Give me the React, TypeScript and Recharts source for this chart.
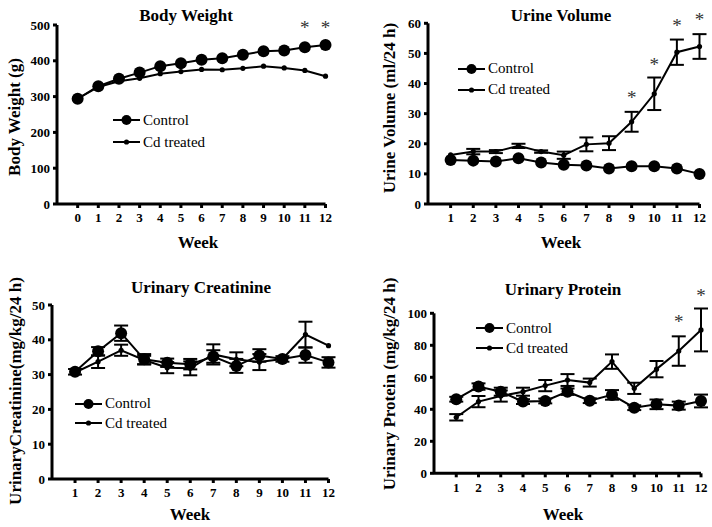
import React from 'react';
import { LineChart, Line, XAxis, YAxis, ErrorBar, ReferenceDot, Legend } from 'recharts';

const FONT = '"Liberation Serif", "Times New Roman", Times, serif';

// Body Weight (g)
const bwWeeks = [0, 1, 2, 3, 4, 5, 6, 7, 8, 9, 10, 11, 12];
const bwControl = [294, 329, 350, 367, 385, 393, 403, 407, 417, 427, 429, 438, 444];
const bwCd = [294, 327, 343, 351, 364, 370, 376, 375, 379, 385, 380, 373, 357];
const bwStarWeeks = [11, 12];
const bwStarLevels = [500, 500];
const bwTicks = [0, 100, 200, 300, 400, 500];

// Urine Volume (ml/24 h)
const weeks = [1, 2, 3, 4, 5, 6, 7, 8, 9, 10, 11, 12];
const uvControl = [14.6, 14.4, 14.1, 15.2, 13.8, 13.0, 12.8, 11.8, 12.5, 12.5, 11.8, 10.0];
const uvCd = [16.3, 17.4, 17.4, 19.3, 17.4, 16.2, 19.8, 20.2, 27.3, 36.6, 50.4, 52.3];
const uvCdErr = [null, 0.9, 0.5, 0.7, 0.4, 1.2, 2.3, 2.3, 3.3, 5.4, 4.2, 4.1];
const uvStarWeeks = [9, 10, 11, 12];
const uvStarLevels = [36.2, 47.3, 60.2, 62.2];
const uvTicks = [0, 10, 20, 30, 40, 50, 60];

// Urinary Creatinine (mg/kg/24 h)
const ucControl = [30.8, 36.7, 41.9, 34.4, 33.4, 33.0, 35.2, 32.5, 35.5, 34.5, 35.6, 33.5];
const ucControlErr = [0.8, 1.2, 2.2, 1.5, 1.2, 1.5, 1.8, 2.0, 1.8, 0.8, 2.2, 1.5];
const ucCd = [30.6, 33.7, 37.0, 34.2, 32.0, 31.8, 35.8, 34.4, 33.6, 34.5, 41.5, 38.3];
const ucCdErr = [null, 1.8, 1.6, 1.2, 1.6, 2.0, 2.9, 2.0, 2.3, null, 3.7, null];
const ucTicks = [0, 10, 20, 30, 40, 50];

// Urinary Protein (mg/kg/24 h)
const upControl = [46.3, 54.2, 51.0, 44.8, 45.2, 51.0, 45.4, 49.0, 41.0, 43.1, 42.3, 45.2];
const upControlErr = [1.5, 2.0, 2.5, 1.5, 1.5, 2.0, 1.5, 3.0, 1.5, 3.0, 2.5, 4.0];
const upCd = [35.0, 44.8, 48.3, 51.0, 54.8, 58.3, 56.7, 69.8, 53.1, 65.1, 76.4, 89.6];
const upCdErr = [2.0, 3.5, 3.5, 2.5, 3.5, 3.7, 2.5, 4.5, 3.5, 5.1, 9.2, 13.4];
const upStarWeeks = [11, 12];
const upStarLevels = [96.4, 112.9];
const upTicks = [0, 20, 40, 60, 80, 100];

type Num = number | null;

function buildRows(w: number[], control: number[], cd: number[], controlErr?: Num[], cdErr?: Num[]) {
    return w.map((week, i) => ({
        week,
        control: control[i],
        cd: cd[i],
        controlErr: controlErr ? controlErr[i] : null,
        cdErr: cdErr ? cdErr[i] : null,
    }));
}

interface PanelCfg {
    left: number; top: number; width: number; height: number;
    plotLeft: number; plotRight: number; plotTop: number; plotBottom: number;
    xDomain: [number, number]; xTicks: number[];
    yDomain: [number, number]; yTicks: number[]; clipY?: boolean;
    yLabel: string; yLabelX: number; yLabelY: number;
    weekX: number; weekY: number;
    legendLeft: number; legendTop: number; legendRow: number;
    rows: ReturnType<typeof buildRows>;
    starWeeks: number[]; starLevels: number[];
}

const axisStroke = { stroke: '#000', strokeWidth: 3 };
const tickStyle = { fill: '#000', fontSize: 13, fontWeight: 700, fontFamily: FONT };

// eslint-disable-next-line @typescript-eslint/no-explicit-any
function AxisText({ lx, ly, txt, rot }: any) {
    return (
        <text
            x={lx} y={ly}
            transform={rot ? `rotate(-90 ${lx} ${ly})` : undefined}
            textAnchor="middle"
            dominantBaseline={rot ? 'central' : 'auto'}
            style={{ fontFamily: FONT, fontSize: 17, fontWeight: 700, fill: '#000' }}
        >
            {txt}
        </text>
    );
}

// eslint-disable-next-line @typescript-eslint/no-explicit-any
const controlDot = (p: any) => <circle key={`c-${p.index}`} cx={p.cx} cy={p.cy} r={6} fill="#000" />;
// eslint-disable-next-line @typescript-eslint/no-explicit-any
const cdDot = (p: any) => <circle key={`d-${p.index}`} cx={p.cx} cy={p.cy} r={2.6} fill="#000" />;
// eslint-disable-next-line @typescript-eslint/no-explicit-any
const starShape = (p: any) => (
    <text x={p.cx} y={p.cy + 9} textAnchor="middle" style={{ fontFamily: FONT, fontSize: 19, fill: '#333' }}>*</text>
);

function LegendBox({ rowHeight }: { rowHeight: number }) {
    const items = [{ name: 'Control', r: 5 }, { name: 'Cd treated', r: 2.6 }];
    return (
        <div style={{ fontFamily: FONT, fontSize: 15, color: '#000' }}>
            {items.map(it => (
                <div key={it.name} style={{ display: 'flex', alignItems: 'center', height: rowHeight }}>
                    <svg width={27} height={12} style={{ display: 'block' }}>
                        <line x1={0} x2={27} y1={6} y2={6} stroke="#000" strokeWidth={2} />
                        <circle cx={13.5} cy={6} r={it.r} fill="#000" />
                    </svg>
                    <span style={{ marginLeft: 3, whiteSpace: 'nowrap' }}>{it.name}</span>
                </div>
            ))}
        </div>
    );
}

function Panel({ cfg }: { cfg: PanelCfg }) {
    return (
        <div style={{ position: 'absolute', left: cfg.left, top: cfg.top }}>
            <LineChart
                width={cfg.width}
                height={cfg.height}
                data={cfg.rows}
                margin={{ top: cfg.plotTop, right: cfg.width - cfg.plotRight, bottom: 0, left: 0 }}
            >
                <XAxis
                    dataKey="week" type="number" domain={cfg.xDomain} ticks={cfg.xTicks} interval={0}
                    height={cfg.height - cfg.plotBottom}
                    axisLine={axisStroke} tickLine={axisStroke} tickSize={4} tickMargin={5} tick={tickStyle}
                    label={<AxisText lx={cfg.weekX} ly={cfg.weekY} txt="Week" />}
                />
                <YAxis
                    type="number" domain={cfg.yDomain} ticks={cfg.yTicks} interval={0} width={cfg.plotLeft}
                    allowDataOverflow={!!cfg.clipY}
                    axisLine={axisStroke} tickLine={axisStroke} tickSize={4} tickMargin={3} tick={tickStyle}
                    label={<AxisText lx={cfg.yLabelX} ly={cfg.yLabelY} txt={cfg.yLabel} rot />}
                />
                <Line dataKey="cd" type="linear" stroke="#000" strokeWidth={2} dot={cdDot} activeDot={false} isAnimationActive={false}>
                    <ErrorBar dataKey="cdErr" direction="y" width={7} stroke="#000" strokeWidth={2} />
                </Line>
                <Line dataKey="control" type="linear" stroke="#000" strokeWidth={2} dot={controlDot} activeDot={false} isAnimationActive={false}>
                    <ErrorBar dataKey="controlErr" direction="y" width={7} stroke="#000" strokeWidth={2} />
                </Line>
                {cfg.starWeeks.map((w, i) => (
                    <ReferenceDot key={`s-${w}`} x={w} y={cfg.starLevels[i]} ifOverflow="visible" shape={starShape} />
                ))}
                <Legend
                    layout="vertical" align="center" verticalAlign="middle"
                    content={<LegendBox rowHeight={cfg.legendRow} />}
                    wrapperStyle={{ left: cfg.legendLeft, top: cfg.legendTop, width: 'auto', height: 'auto' }}
                />
            </LineChart>
        </div>
    );
}

const panels: PanelCfg[] = [
    {
        left: 0, top: 0, width: 356, height: 258,
        plotLeft: 57, plotRight: 325.5, plotTop: 25, plotBottom: 204,
        xDomain: [-1, 12], xTicks: bwWeeks, yDomain: [0, 500], yTicks: bwTicks,
        yLabel: 'Body Weight (g)', yLabelX: 14, yLabelY: 117,
        weekX: 198, weekY: 248,
        legendLeft: 113, legendTop: 109, legendRow: 22,
        rows: buildRows(bwWeeks, bwControl, bwCd),
        starWeeks: bwStarWeeks, starLevels: bwStarLevels,
    },
    {
        left: 356, top: 0, width: 356, height: 258,
        plotLeft: 72, plotRight: 343.5, plotTop: 23.3, plotBottom: 204,
        xDomain: [0, 12], xTicks: weeks, yDomain: [0, 60], yTicks: uvTicks,
        yLabel: 'Urine Volume (ml/24 h)', yLabelX: 33, yLabelY: 108,
        weekX: 205, weekY: 248,
        legendLeft: 102, legendTop: 58, legendRow: 21,
        rows: buildRows(weeks, uvControl, uvCd, undefined, uvCdErr),
        starWeeks: uvStarWeeks, starLevels: uvStarLevels,
    },
    {
        left: 0, top: 258, width: 356, height: 269,
        plotLeft: 52, plotRight: 328.5, plotTop: 47, plotBottom: 221,
        xDomain: [0, 12], xTicks: weeks, yDomain: [0, 50], yTicks: ucTicks,
        yLabel: 'UrinaryCreatinine(mg/kg/24 h)', yLabelX: 15, yLabelY: 133,
        weekX: 190, weekY: 262,
        legendLeft: 75, legendTop: 136, legendRow: 19.5,
        rows: buildRows(weeks, ucControl, ucCd, ucControlErr, ucCdErr),
        starWeeks: [], starLevels: [],
    },
    {
        left: 356, top: 258, width: 356, height: 269,
        plotLeft: 78, plotRight: 345, plotTop: 55.3, plotBottom: 215.3, clipY: true,
        xDomain: [0, 12], xTicks: weeks, yDomain: [0, 100], yTicks: upTicks,
        yLabel: 'Urinary Protein (mg/kg/24 h)', yLabelX: 33, yLabelY: 126,
        weekX: 207, weekY: 262,
        legendLeft: 120, legendTop: 60, legendRow: 20,
        rows: buildRows(weeks, upControl, upCd, upControlErr, upCdErr),
        starWeeks: upStarWeeks, starLevels: upStarLevels,
    },
];

const titles = [
    { text: 'Body Weight', x: 186, y: 15 },
    { text: 'Urine Volume', x: 561, y: 15 },
    { text: 'Urinary Creatinine', x: 201, y: 287 },
    { text: 'Urinary Protein', x: 563, y: 289 },
];

export default function App() {
    return (
        <div style={{ position: 'absolute', left: 0, top: 0, width: 712, height: 527, background: '#fff', overflow: 'hidden' }}>
            {panels.map((p, i) => <Panel key={`p-${i}`} cfg={p} />)}
            {titles.map(t => (
                <div
                    key={t.text}
                    style={{
                        position: 'absolute', left: t.x, top: t.y, transform: 'translate(-50%, -50%)',
                        fontFamily: FONT, fontSize: 17, fontWeight: 700, lineHeight: 1, whiteSpace: 'nowrap', color: '#000',
                    }}
                >
                    {t.text}
                </div>
            ))}
        </div>
    );
}
